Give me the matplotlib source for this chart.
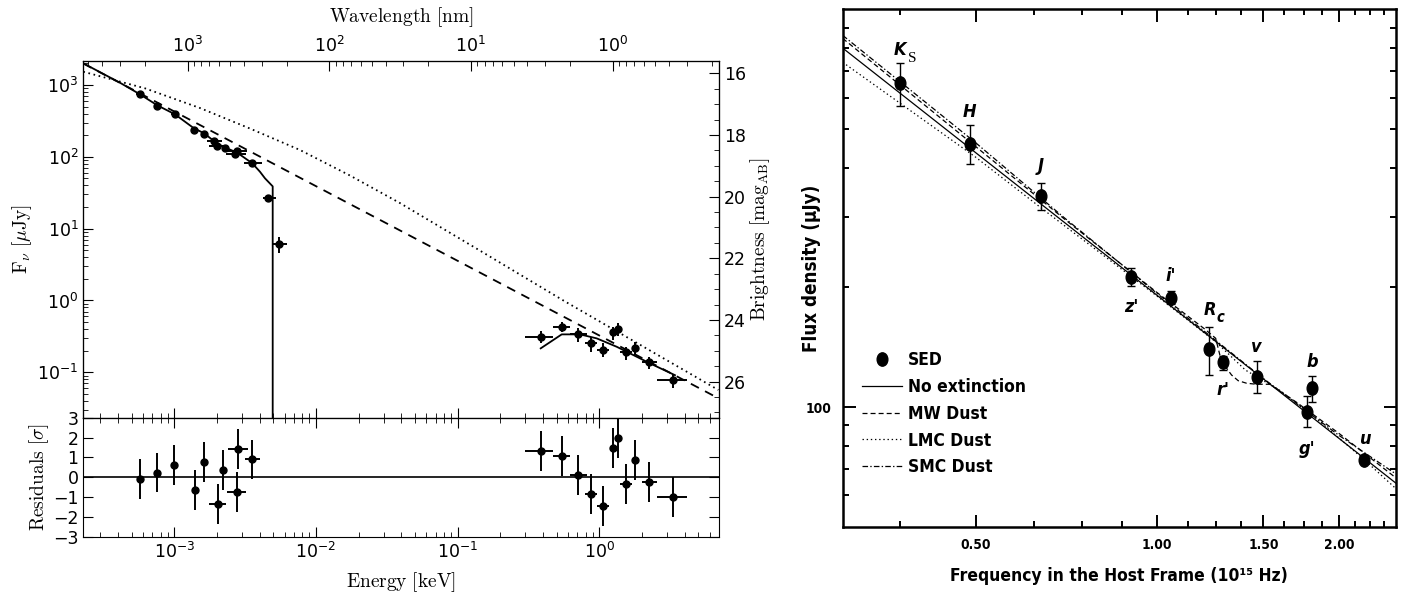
import matplotlib

matplotlib.use("Agg")
import matplotlib.pyplot as plt
import numpy as np
from matplotlib import font_manager
from matplotlib.font_manager import FontProperties
from matplotlib.lines import Line2D
from matplotlib.path import Path
from matplotlib.ticker import FixedLocator, FuncFormatter, MultipleLocator, NullFormatter
from matplotlib.transforms import Affine2D

HC_KEV_NM = 1.23984  # wavelength [nm] = HC / energy [keV]

# ---------------- left panel: broadband SED vs energy ----------------
# UVOT / optical / NIR photometry
opt_e = [5.73e-4, 7.59e-4, 1.011e-3, 1.377e-3, 1.629e-3, 1.915e-3, 1.99e-3, 2.27e-3, 2.79e-3, 2.70e-3, 3.56e-3, 4.61e-3, 5.51e-3]
opt_e_lo = [5.40e-4, 7.15e-4, 9.5e-4, 1.33e-3, 1.57e-3, 1.71e-3, 1.77e-3, 2.17e-3, 2.40e-3, 2.32e-3, 3.10e-3, 4.21e-3, 4.87e-3]
opt_e_hi = [6.10e-4, 8.05e-4, 1.08e-3, 1.43e-3, 1.69e-3, 2.16e-3, 2.24e-3, 2.38e-3, 3.27e-3, 3.21e-3, 4.14e-3, 5.22e-3, 6.27e-3]
opt_f = [741, 515, 391, 236, 208, 166, 143, 133, 121.7, 108, 81, 26.9, 6.04]
opt_f_lo = [705, 490, 370, 224, 198, 156, 134, 126, 113, 100, 75, 24.5, 4.62]
opt_f_hi = [780, 542, 413, 248, 219, 177, 152, 140, 131, 116, 88, 29.5, 7.71]

# XRT spectrum
xrt_e = [0.386, 0.543, 0.704, 0.870, 1.067, 1.243, 1.349, 1.543, 1.786, 2.254, 3.33]
xrt_e_lo = [0.299, 0.473, 0.621, 0.79, 0.968, 1.20, 1.30, 1.40, 1.69, 1.99, 2.54]
xrt_e_hi = [0.473, 0.621, 0.815, 0.958, 1.177, 1.29, 1.40, 1.69, 1.89, 2.54, 4.14]
xrt_f = [0.313, 0.431, 0.341, 0.2535, 0.2046, 0.360, 0.401, 0.190, 0.216, 0.138, 0.078]
xrt_f_lo = [0.2535, 0.360, 0.267, 0.194, 0.162, 0.281, 0.319, 0.148, 0.174, 0.110, 0.0598]
xrt_f_hi = [0.380, 0.507, 0.410, 0.307, 0.2535, 0.431, 0.481, 0.2275, 0.267, 0.165, 0.0947]

# residuals
res_opt_e = [5.72e-4, 7.55e-4, 9.98e-4, 1.40e-3, 1.62e-3, 2.02e-3, 2.22e-3, 2.75e-3, 2.80e-3, 3.55e-3]
res_opt_e_lo = [5.45e-4, 7.2e-4, 9.5e-4, 1.33e-3, 1.55e-3, 1.77e-3, 2.12e-3, 2.34e-3, 2.38e-3, 3.14e-3]
res_opt_e_hi = [6.0e-4, 7.9e-4, 1.05e-3, 1.47e-3, 1.70e-3, 2.30e-3, 2.33e-3, 3.23e-3, 3.29e-3, 4.01e-3]
res_opt = [-0.1, 0.23, 0.6, -0.65, 0.78, -1.35, 0.36, -0.76, 1.41, 0.9]
res_xrt = [1.32, 1.07, 0.1, -0.86, -1.44, 1.46, 1.96, -0.34, 0.87, -0.23, -1.01]

# model curves
fit_e = [2.279e-4, 4.136e-4, 5.727e-4, 7.586e-4, 1.0114e-3, 1.377e-3, 1.628e-3, 1.992e-3, 2.269e-3,
         2.784e-3, 3.554e-3, 4.025e-3, 4.367e-3, 4.95e-3, 4.95e-3]
fit_f = [2005, 1076, 742, 521.7, 390.8, 249.5, 212.4, 154.2, 135.6, 114.0, 81.2, 62.0, 50.2, 38.8, 1e-3]
fit_xrt_e = [0.3858, 0.5428, 0.7309, 0.9585, 1.327, 2.279, 3.42]
fit_xrt_f = [0.2153, 0.337, 0.337, 0.2965, 0.2265, 0.133, 0.0911]
pl_e = [2.279e-4, 6.92]
pl_f = [1992, 0.0435]
bpl_e = [2.279e-4, 6.21e-4, 1.518e-3, 3.42e-3, 7.72e-3, 0.01739, 0.03918, 0.1438, 0.557, 6.92]
bpl_f = [1531, 899.6, 478.3, 247.9, 124.4, 54.9, 22.7, 4.94, 1.0, 0.0567]

mag_ticks = [16, 18, 20, 22, 24, 26]

# ---------------- right panel: optical/NIR SED in host frame ----------------
bands = ["Ks", "H", "J", "z'", "i'", "Rc", "r'", "v", "b", "g'", "u"]
band_nu = [0.3745, 0.490, 0.641, 0.9036, 1.054, 1.218, 1.286, 1.461, 1.807, 1.769, 2.201]
band_f = [652.5, 459.7, 339.6, 212.7, 188.4, 139.8, 129.9, 119.4, 111.6, 97.5, 73.8]
band_f_lo = [571, 407.8, 313, 201.6, 181.5, 120.5, 124, 108.4, 103.1, 89.1, 72.3]
band_f_hi = [734, 512, 365.6, 224, 195.5, 159.4, 134.8, 130.5, 120, 106.8, 75.3]

noext_nu = [0.301, 2.485]
noext_f = [799, 64.5]
mw_nu = [0.301, 0.5, 0.7, 1.0, 1.2, 1.25, 1.27, 1.303, 1.328, 1.362, 1.406, 1.461, 1.537, 1.7, 2.0, 2.485]
mw_f = [845, 452, 298, 194, 157, 149, 135.3, 125.3, 120.5, 116.6, 114.9, 114.2, 114.2, 103, 86, 66.5]
lmc_nu = [0.301, 0.5, 0.64, 1.0, 1.25, 1.4, 1.6, 1.8, 2.2, 2.485]
lmc_f = [736, 425, 318, 190, 146, 124, 110, 96, 74, 62.5]
smc_nu = [0.301, 0.5, 0.7, 1.0, 1.5, 2.0, 2.485]
smc_f = [860, 462, 300, 193, 118, 85, 68]

nu_major = [0.5, 1.0, 1.5, 2.0]
nu_minor = [0.375, 0.625, 0.75, 0.875, 1.125, 1.25, 1.375, 1.625, 1.75, 1.875, 2.125, 2.25, 2.375]
flux_minor = [60, 70, 80, 90, 200, 300, 400, 500, 600, 700, 800, 900]


def condensed_file(italic):
    best = None
    for f in font_manager.fontManager.ttflist:
        low = f.name.lower()
        if "mono" in low or "serif" in low:
            continue
        narrow = "narrow" in low or "condensed" in low or f.stretch in ("condensed", "semi-condensed", "extra-condensed")
        weight = f.weight if isinstance(f.weight, int) else font_manager.weight_dict.get(f.weight, 400)
        is_italic = f.style in ("italic", "oblique")
        if narrow and weight >= 600 and is_italic == italic:
            rank = 0 if "liberation" in low else 1
            if best is None or rank < best[0]:
                best = (rank, f.fname)
    return best[1] if best else None


BOLD_FILE = condensed_file(False)
ITALIC_FILE = condensed_file(True)


def narrow_font(size, italic=False):
    path = ITALIC_FILE if italic else BOLD_FILE
    if path:
        return FontProperties(fname=path, size=size)
    # no condensed face installed: regular bold face, a little smaller
    return FontProperties(family="Liberation Sans", weight="bold", style="italic" if italic else "normal",
                          size=size * 0.87)


plt.rcParams["lines.scale_dashes"] = False

W, H = 1413, 596
fig = plt.figure(figsize=(W / 100, H / 100), dpi=100)


def frame(left, right, top, bottom):
    return [left / W, 1 - bottom / H, (right - left) / W, (bottom - top) / H]


def spans(center, lo, hi):
    c = np.asarray(center, dtype=float)
    return [c - np.asarray(lo), np.asarray(hi) - c]


# ---- left: main panel ----
ax = fig.add_axes(frame(83.3, 719.3, 61, 417.7))
res = fig.add_axes(frame(83.3, 719.3, 417.7, 536.7), sharex=ax)
ax.set_xscale("log")
ax.set_yscale("log")
ax.set_xlim(2.279e-4, 7.03)
ax.set_ylim(0.0233, 2160)

ax.plot(bpl_e, bpl_f, color="k", lw=1.3, ls=(0, (1.2, 2.6)))
ax.plot(pl_e, pl_f, color="k", lw=1.3, ls=(0, (6.5, 5)))
ax.plot(fit_e, fit_f, color="k", lw=1.3)
ax.plot(fit_xrt_e, fit_xrt_f, color="k", lw=1.3)
ebar = dict(fmt="o", color="k", ms=5, elinewidth=1.4, capsize=0)
ax.errorbar(opt_e, opt_f, xerr=spans(opt_e, opt_e_lo, opt_e_hi), yerr=spans(opt_f, opt_f_lo, opt_f_hi), **ebar)
ax.errorbar(xrt_e, xrt_f, xerr=spans(xrt_e, xrt_e_lo, xrt_e_hi), yerr=spans(xrt_f, xrt_f_lo, xrt_f_hi), **ebar)

ax.tick_params(which="both", direction="in", top=False, right=False, labelbottom=False, labelsize=12.5)
ax.tick_params(which="major", length=7)
ax.tick_params(which="minor", length=3.5)
ax.set_ylabel(r"$\mathrm{F}_\nu\ [\mu\mathrm{Jy}]$", fontsize=14, math_fontfamily="cm")
ax.yaxis.set_label_coords(-0.077, 0.5)

top = ax.twiny()
top.set_xscale("log")
top.set_xlim(HC_KEV_NM / 2.279e-4, HC_KEV_NM / 7.03)
top.tick_params(which="both", direction="in", labelsize=12.5)
top.tick_params(which="major", length=7)
top.tick_params(which="minor", length=3.5)
top.set_xlabel(r"$\mathrm{Wavelength\ [nm]}$", fontsize=14, math_fontfamily="cm", labelpad=10)

mag = ax.twinx()
mag.set_ylim(27.17, 15.60)
mag.set_yticks(mag_ticks)
mag.yaxis.set_minor_locator(MultipleLocator(0.5))
mag.tick_params(which="both", direction="in", labelsize=12.5)
mag.tick_params(which="major", length=7)
mag.tick_params(which="minor", length=3.5)
mag.set_ylabel(r"$\mathrm{Brightness\ [mag_{AB}]}$", fontsize=14, math_fontfamily="cm")
mag.yaxis.set_label_coords(1.045, 0.5)

# ---- left: residuals ----
res.axhline(0, color="k", lw=1.2)
rbar = dict(fmt="o", color="k", ms=5, elinewidth=1.4, capsize=0)
res.errorbar(res_opt_e, res_opt, xerr=spans(res_opt_e, res_opt_e_lo, res_opt_e_hi), yerr=1, **rbar)
res.errorbar(xrt_e, res_xrt, xerr=spans(xrt_e, xrt_e_lo, xrt_e_hi), yerr=1, **rbar)
res.set_ylim(-3, 3)
res.set_yticks(range(-3, 4))
res.tick_params(which="both", direction="in", top=True, right=True, labelsize=12.5)
res.tick_params(which="major", length=7)
res.tick_params(which="minor", length=3.5)
res.set_xlabel(r"$\mathrm{Energy\ [keV]}$", fontsize=14, math_fontfamily="cm", labelpad=6)
res.set_ylabel(r"$\mathrm{Residuals\ [}\sigma\mathrm{]}$", fontsize=14, math_fontfamily="cm")
res.yaxis.set_label_coords(-0.05, 0.5)

# ---- right panel ----
sed = fig.add_axes(frame(842.7, 1395.7, 9.3, 527))
sed.set_xscale("log")
sed.set_yscale("log")
sed.set_xlim(0.301, 2.485)
sed.set_ylim(50, 1000)

thin = 0.9
mw_ls = (0, (3.6, 2.2))
lmc_ls = (0, (1, 2))
smc_ls = (0, (4, 1.6, 1, 1.6))
sed.plot(noext_nu, noext_f, color="k", lw=thin)
sed.plot(mw_nu, mw_f, color="k", lw=thin, ls=mw_ls)
sed.plot(lmc_nu, lmc_f, color="k", lw=thin, ls=lmc_ls)
sed.plot(smc_nu, smc_f, color="k", lw=thin, ls=smc_ls)

ellipse = Path.unit_circle().transformed(Affine2D().scale(0.8, 1.0))
sed.errorbar(band_nu, band_f, yerr=spans(band_f, band_f_lo, band_f_hi), fmt="none",
             ecolor="k", elinewidth=1.0, capsize=3, capthick=1.0)
sed.plot(band_nu, band_f, ls="none", marker=ellipse, ms=9.6, color="k")

offsets = {"Ks": (0, 33), "H": (-1, 31.6), "J": (0, 30), "z'": (1, -30), "i'": (0, 22), "Rc": (0.7, 39.6),
           "r'": (0, -28), "v": (0, 29.4), "b": (0, 26.6), "g'": (0, -37.6), "u": (1, 21)}
for name, nu, f in zip(bands, band_nu, band_f):
    dx, dy = offsets[name]
    main = {"Ks": "K", "Rc": "R"}.get(name, name)
    sed.annotate(main, (nu, f), xytext=(dx * 0.72, dy * 0.72), textcoords="offset points",
                 fontproperties=narrow_font(13, italic=True), ha="center", va="center")
sed.annotate("S", (band_nu[0], band_f[0]), xytext=(12.5 * 0.72, 25 * 0.72), textcoords="offset points",
             family="Liberation Serif", size=11, ha="center", va="center")
sed.annotate("c", (band_nu[5], band_f[5]), xytext=(11 * 0.72, 32 * 0.72), textcoords="offset points",
             fontproperties=narrow_font(10.5, italic=True), ha="center", va="center")

sed.xaxis.set_major_locator(FixedLocator(nu_major))
sed.xaxis.set_major_formatter(FuncFormatter(lambda v, p: f"{v:.2f}"))
sed.xaxis.set_minor_locator(FixedLocator(nu_minor))
sed.xaxis.set_minor_formatter(NullFormatter())
sed.yaxis.set_major_locator(FixedLocator([100]))
sed.yaxis.set_major_formatter(FuncFormatter(lambda v, p: f"{v:.0f}"))
sed.yaxis.set_minor_locator(FixedLocator(flux_minor))
sed.yaxis.set_minor_formatter(NullFormatter())
sed.tick_params(which="both", direction="in", top=True, right=True, width=1.4, pad=8)
sed.tick_params(which="major", length=9)
sed.tick_params(which="minor", length=4.5)
for spine in sed.spines.values():
    spine.set_linewidth(1.8)
for lbl in sed.get_xticklabels() + sed.get_yticklabels():
    lbl.set_fontproperties(narrow_font(9.8))

sed.set_xlabel("Frequency in the Host Frame (10\u00b9\u2075 Hz)", fontproperties=narrow_font(12.5), labelpad=11)
sed.set_ylabel("Flux density (\u03bcJy)", fontproperties=narrow_font(13.5))
sed.yaxis.set_label_coords(-0.04, 0.5)

handles = [
    Line2D([], [], ls="none", marker=ellipse, ms=9.6, color="k"),
    Line2D([], [], color="k", lw=thin),
    Line2D([], [], color="k", lw=thin, ls=mw_ls),
    Line2D([], [], color="k", lw=thin, ls=lmc_ls),
    Line2D([], [], color="k", lw=thin, ls=smc_ls),
]
leg_font = narrow_font(12.5)
hl = 40.6 / (leg_font.get_size_in_points() / 0.72)
pad = 6.0 / (leg_font.get_size_in_points() / 0.72)
sed.legend(handles, ["SED", "No extinction", "MW Dust", "LMC Dust", "SMC Dust"], loc="upper left",
           bbox_to_anchor=(0.034, 0.34), frameon=False, borderpad=0, borderaxespad=0,
           handlelength=hl, handletextpad=pad, labelspacing=0.51, prop=leg_font)

fig.savefig("out.png", dpi=100, facecolor="white")
